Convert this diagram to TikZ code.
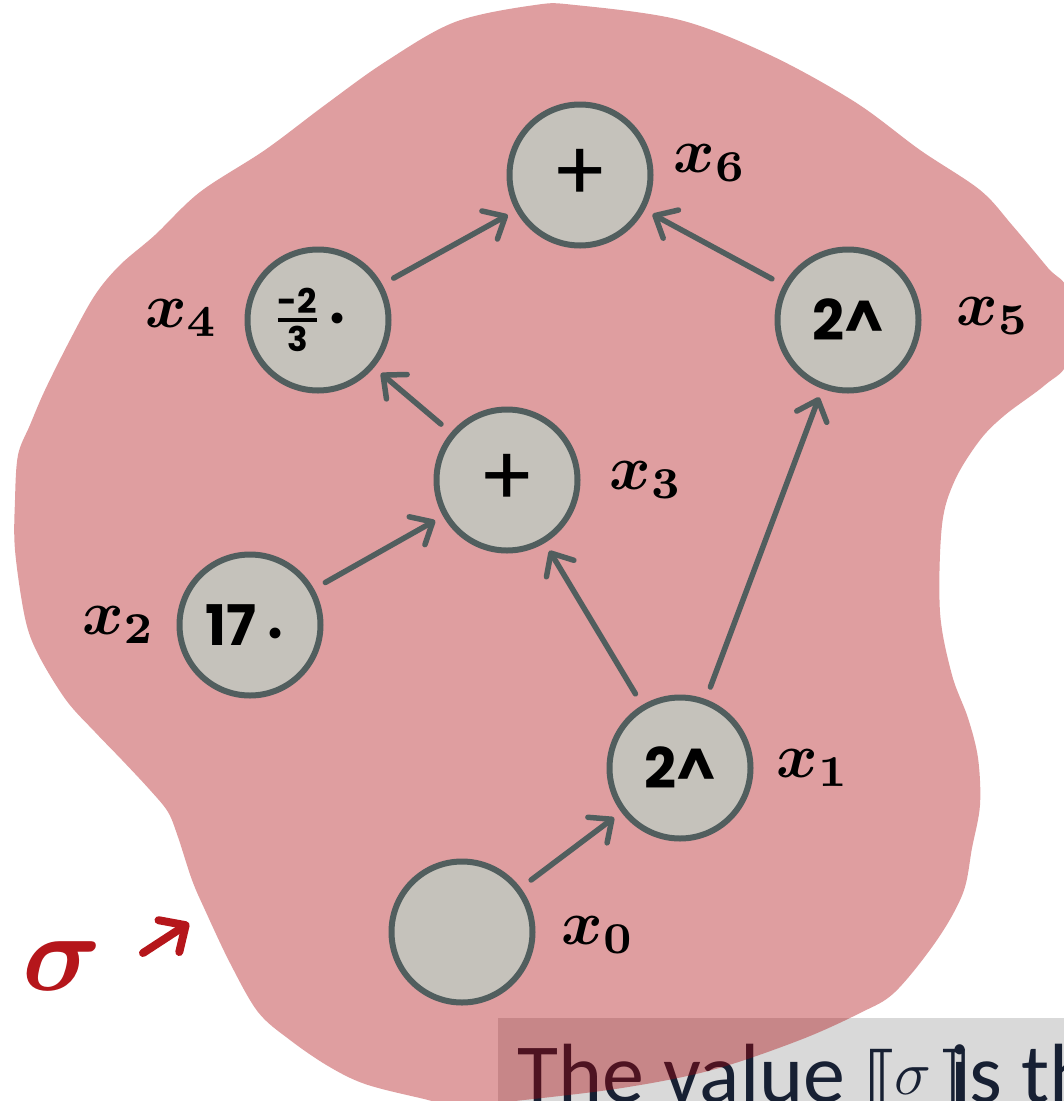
\documentclass[tikz,border=0pt]{standalone}
\usepackage{amsmath,amssymb,bm}
\usepackage{fontspec}
\usepackage{tikz}
\usetikzlibrary{arrows.meta,positioning}
\newfontfamily\handfont{Poppins}
\newfontfamily\slidefont{Carlito}
\newfontfamily\bracketfont{DejaVu Sans}
\definecolor{BlobRed}{HTML}{AA0005}
\definecolor{NodeFill}{HTML}{C5C2BB}
\definecolor{NodeRim}{HTML}{515E5E}
\definecolor{SigmaRed}{HTML}{B5161B}
\definecolor{SlideGray}{HTML}{D9D9D9}
\definecolor{SlideInk}{HTML}{172033}
\newcommand{\opdot}{\,{\fontsize{36}{36}\selectfont •}}
\newcommand{\opplus}{{\mdseries\fontsize{84}{84}\selectfont +}}
\newcommand{\varname}[1]{\scalebox{6.3}{\boldmath$x_{#1}$}}
\newcommand{\semb}[1]{{\bracketfont\fontsize{70}{70}\selectfont ⟦}\kern-4pt#1\kern6pt{\bracketfont\fontsize{70}{70}\selectfont ⟧}\kern-22pt}
\tikzset{
  opnode/.style={circle,draw=NodeRim,fill=NodeFill,line width=6pt,minimum size=141pt,inner sep=0pt,font=\handfont\bfseries\fontsize{56}{60}\selectfont},
  varlabel/.style={inner sep=0pt},
  evalarrow/.style={-{Straight Barb[length=18pt,width=32pt,round]},line width=5.5pt,draw=NodeRim,line cap=round,shorten <=13pt,shorten >=9pt},
  sigmaarrow/.style={-{Straight Barb[length=20pt,width=38pt,round]},line width=8pt,draw=SigmaRed,line cap=round},
  blob/.style={fill=BlobRed,fill opacity=0.38}
}

\begin{document}
\begin{tikzpicture}[x=1pt,y=-1pt,node distance=22pt]
\useasboundingbox (0,0) rectangle (1064,1101);
\clip (0,0) rectangle (1064,1101);

\fill[SlideGray] (498,1018) rectangle (1080,1110);
\node[anchor=base west,text=SlideInk,font=\slidefont\fontsize{84}{90}\selectfont,inner sep=0pt] (caption) at (517,1102) {The value \semb{\raisebox{8pt}{\scalebox{2.5}{$\sigma$}}} is th};

\fill[blob] plot[smooth cycle,tension=0.55] coordinates {
  (15,500) (18,455) (30,425) (45,390) (70,340) (95,295) (120,265) (155,235)
  (200,192) (265,150) (325,105) (385,62) (455,22) (535,5) (575,5) (680,20)
  (770,55) (855,102) (920,150) (980,190) (1012,225) (1048,268) (1068,292)
  (1068,360) (1045,385) (1005,415) (980,440) (955,480) (942,525) (940,612)
  (952,675) (968,718) (978,758) (980,805) (972,848) (963,893) (937,940)
  (895,992) (860,1013) (800,1040) (712,1070) (622,1088) (515,1101) (460,1106)
  (420,1098) (365,1084) (328,1066) (290,1040) (258,1012) (230,963) (205,910)
  (192,880) (178,837) (168,812) (150,790) (122,760) (95,732) (66,700)
  (38,654) (25,618) (15,550)};

\node[opnode] (x6) at (580,175) {\opplus};
\node[opnode] (x4) at (318,320) {\hspace*{-14pt}\scalebox{1.7}{$\frac{\text{\fontsize{20}{20}\selectfont -2}}{\text{\fontsize{20}{20}\selectfont 3}}$}\opdot};
\node[opnode] (x5) at (848,320) {2\textasciicircum};
\node[opnode] (x3) at (507,480) {\opplus};
\node[opnode] (x2) at (250,625) {\hspace*{-10pt}17\opdot};
\node[opnode] (x1) at (680,768) {2\textasciicircum};
\node[opnode] (x0) at (462,932) {};

\node[varlabel,right=20pt of x6,yshift=12pt] (l6) {\varname{6}};
\node[varlabel,left=26pt of x4,yshift=2pt] (l4) {\varname{4}};
\node[varlabel,right=35pt of x5,yshift=4pt] (l5) {\varname{5}};
\node[varlabel,right=29pt of x3] (l3) {\varname{3}};
\node[varlabel,left=21pt of x2] (l2) {\varname{2}};
\node[varlabel,right=23pt of x1] (l1) {\varname{1}};
\node[varlabel,right=26pt of x0,yshift=-3pt] (l0) {\varname{0}};

\draw[evalarrow] (x0) -- (x1);
\draw[evalarrow] (x1) -- (x3);
\draw[evalarrow] (x1) -- (x5);
\draw[evalarrow] (x2) -- (x3);
\draw[evalarrow] (x3) -- (x4);
\draw[evalarrow] (x4) -- (x6);
\draw[evalarrow] (x5) -- (x6);

\node[text=SigmaRed,inner sep=0pt] (sigma) at (62,966) {\scalebox{11}{\boldmath$\sigma$}};
\coordinate (sigtail) at (143,953);
\coordinate (sighead) at (189,923);
\draw[sigmaarrow] (sigtail) -- (sighead);
\end{tikzpicture}
\end{document}
